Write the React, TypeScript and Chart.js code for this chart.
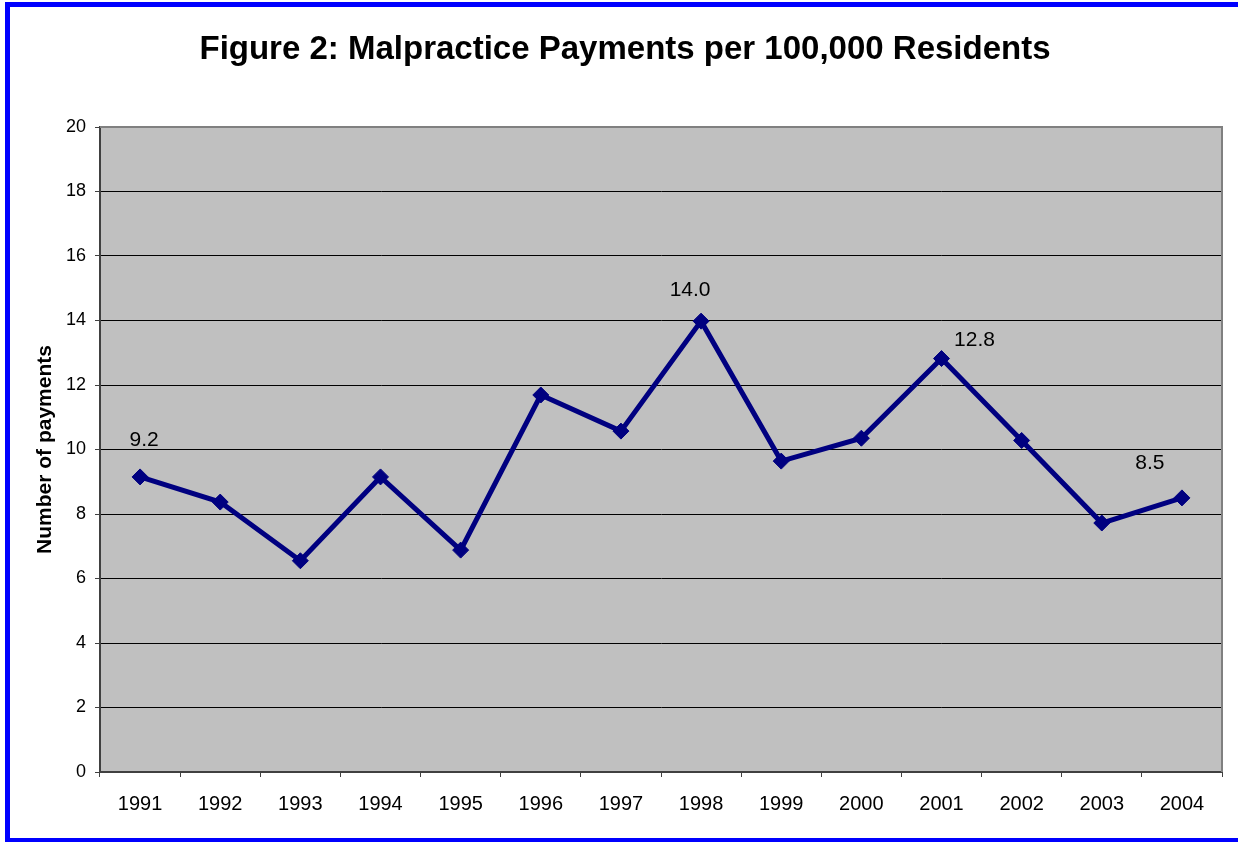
import React, { useEffect, useRef } from "react";
import { Chart, registerables } from "chart.js";

Chart.register(...registerables);

const TITLE = "Figure 2: Malpractice Payments per 100,000 Residents";
const Y_TITLE = "Number of payments";
const years = ["1991", "1992", "1993", "1994", "1995", "1996", "1997", "1998", "1999", "2000", "2001", "2002", "2003", "2004"];
const payments = [9.15, 8.37, 6.55, 9.15, 6.88, 11.69, 10.57, 13.98, 9.64, 10.35, 12.82, 10.28, 7.72, 8.5];
const pointLabels = ["9.2", "", "", "", "", "", "", "14.0", "", "", "12.8", "", "", "8.5"];

const FONT = "'Liberation Sans', Arial, Helvetica, sans-serif";

// label placement offsets (dx, dy) from the point, by index
const LABEL_OFFSETS: Record<number, [number, number]> = {
  0: [4, -37],
  7: [-11, -31],
  10: [33, -18],
  13: [-32, -35],
};

const framePlugin = {
  id: "frame",
  beforeDraw(chart: any) {
    const { ctx, chartArea, width, height } = chart;
    ctx.save();
    ctx.fillStyle = "#ffffff";
    ctx.fillRect(0, 0, width, height);
    // blue outer frame (right side cut off)
    ctx.fillStyle = "#0000FF";
    ctx.fillRect(5, 2, width - 5, 5);
    ctx.fillRect(5, 2, 5, height - 2);
    ctx.fillRect(5, height - 4, width - 5, 4);
    // plot background
    ctx.fillStyle = "#C0C0C0";
    ctx.fillRect(chartArea.left, chartArea.top, chartArea.right - chartArea.left, chartArea.bottom - chartArea.top);
    // title
    ctx.fillStyle = "#000000";
    ctx.font = `bold 33px ${FONT}`;
    ctx.textAlign = "center";
    ctx.textBaseline = "middle";
    ctx.fillText(TITLE, 625, 50);
    ctx.restore();
  },
  beforeDatasetsDraw(chart: any) {
    const { ctx, chartArea } = chart;
    ctx.save();
    ctx.strokeStyle = "#808080";
    ctx.lineWidth = 2;
    ctx.beginPath();
    ctx.moveTo(chartArea.left, chartArea.top);
    ctx.lineTo(chartArea.right, chartArea.top);
    ctx.lineTo(chartArea.right, chartArea.bottom);
    ctx.stroke();
    ctx.restore();
  },
  afterDatasetsDraw(chart: any) {
    const { ctx } = chart;
    const meta = chart.getDatasetMeta(0);
    ctx.save();
    ctx.fillStyle = "#000000";
    ctx.font = `21px ${FONT}`;
    ctx.textAlign = "center";
    ctx.textBaseline = "middle";
    meta.data.forEach((pt: any, i: number) => {
      const txt = pointLabels[i];
      if (!txt) return;
      const off = LABEL_OFFSETS[i] || [0, -30];
      ctx.fillText(txt, pt.x + off[0], pt.y + off[1]);
    });
    ctx.restore();
  },
};

export default function App() {
  const ref = useRef<HTMLCanvasElement | null>(null);

  useEffect(() => {
    if (!ref.current) return;
    const chart = new Chart(ref.current, {
      type: "line",
      data: {
        labels: years,
        datasets: [
          {
            data: payments,
            borderColor: "#000080",
            backgroundColor: "#000080",
            borderWidth: 5,
            pointStyle: "rectRot",
            pointRadius: 8,
            pointBorderWidth: 1,
            pointBackgroundColor: "#000080",
            pointBorderColor: "#000080",
            tension: 0,
          },
        ],
      },
      options: {
        responsive: false,
        animation: false,
        devicePixelRatio: 1,
        layout: { padding: { left: 10, right: 16, top: 127, bottom: 10 } },
        plugins: {
          legend: { display: false },
          tooltip: { enabled: false },
          title: { display: false },
        },
        scales: {
          x: {
            type: "category",
            offset: true,
            grid: {
              offset: true,
              drawOnChartArea: false,
              drawTicks: true,
              tickLength: 5,
              tickColor: "#404040",
              tickWidth: 1,
            },
            border: { display: true, color: "#404040", width: 2 },
            ticks: {
              color: "#000000",
              font: { family: FONT, size: 20 },
              padding: 15,
              maxRotation: 0,
              autoSkip: false,
            },
            afterFit(scale: any) {
              scale.height = 60;
            },
          },
          y: {
            min: 0,
            max: 20,
            ticks: {
              stepSize: 2,
              color: "#000000",
              font: { family: FONT, size: 18 },
              padding: 9,
            },
            grid: {
              color: (c: any) => (c.tick && c.tick.value === 20 ? "rgba(0,0,0,0)" : "#000000"),
              lineWidth: 1,
              tickLength: 5,
              tickColor: "#404040",
            },
            border: { display: true, color: "#404040", width: 2 },
            title: {
              display: true,
              text: Y_TITLE,
              color: "#000000",
              font: { family: FONT, size: 21, weight: "bold" },
              padding: { top: 23, bottom: 0 },
            },
            afterFit(scale: any) {
              scale.width = 90;
            },
          },
        },
      },
      plugins: [framePlugin],
    });
    return () => chart.destroy();
  }, []);

  return (
    <div style={{ position: "absolute", left: 0, top: 0, width: 1238, height: 842 }}>
      <canvas ref={ref} width={1238} height={842} style={{ display: "block" }} />
    </div>
  );
}
